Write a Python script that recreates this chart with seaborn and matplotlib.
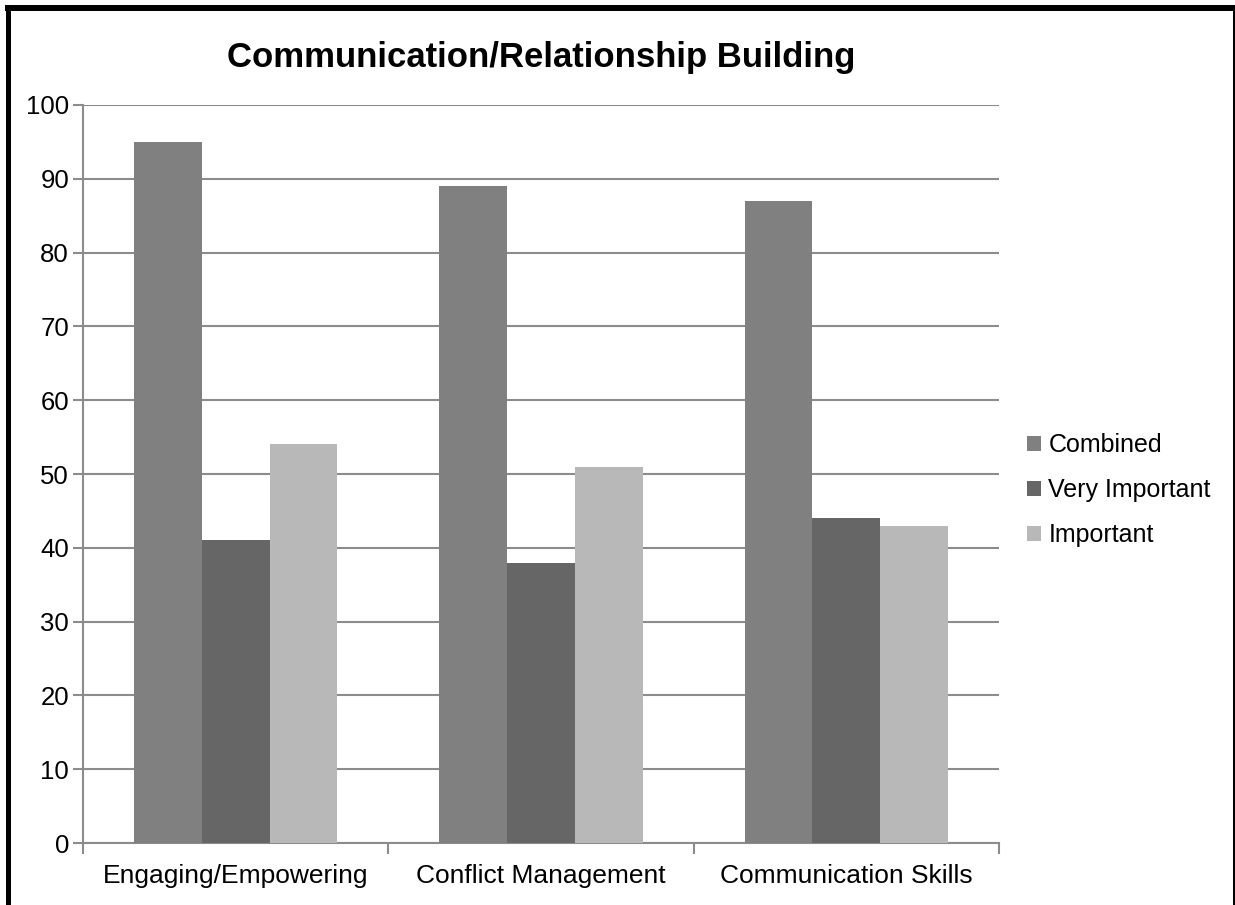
import matplotlib
matplotlib.use("Agg")
import matplotlib.pyplot as plt
from matplotlib.lines import Line2D
import seaborn as sns
import pandas as pd

categories = ["Engaging/Empowering", "Conflict Management", "Communication Skills"]
series = ["Combined", "Very Important", "Important"]
combined = [95, 89, 87]
very_important = [41, 38, 44]
important = [54, 51, 43]
yticks = [0, 10, 20, 30, 40, 50, 60, 70, 80, 90, 100]
title = "Communication/Relationship Building"

colors = ["#808080", "#666666", "#b8b8b8"]

rows = []
for s, vals in zip(series, [combined, very_important, important]):
    for c, v in zip(categories, vals):
        rows.append({"category": c, "series": s, "value": v})
df = pd.DataFrame(rows)

sns.set_theme(style="white")
plt.rcParams["font.family"] = ["Liberation Sans", "DejaVu Sans"]
plt.rcParams["text.color"] = "black"

fig = plt.figure(figsize=(12.35, 9.05), dpi=100)
ax = fig.add_axes([83/1235, 1-843/905, (999-83)/1235, (843-105)/905])

sns.barplot(data=df, x="category", y="value", hue="series", order=categories,
            hue_order=series, palette=colors, width=0.667, gap=0,
            linewidth=0, saturation=1, ax=ax, legend=True, zorder=3)

grid_c = "#8c8c8c"
ax.set_ylim(0, 100)
ax.set_xlim(-0.5, len(categories) - 0.5)
ax.set_yticks(yticks)
ax.set_yticklabels([str(t) for t in yticks], fontsize=18.5, color="black")
ax.yaxis.grid(True, color=grid_c, linewidth=1.5, zorder=0)
ax.set_axisbelow(True)
ax.set_xlabel("")
ax.set_ylabel("")
ax.tick_params(axis="y", direction="out", length=7, width=1.5, color=grid_c, pad=3, left=True)
ax.tick_params(axis="x", which="major", length=0, pad=15, labelsize=19, labelcolor="black")
ax.set_xticks([i + 0.5 for i in range(-1, len(categories))], minor=True)
ax.tick_params(axis="x", which="minor", direction="out", length=8, width=1.5, color=grid_c, bottom=True)
for side in ["top", "right"]:
    ax.spines[side].set_visible(False)
for side in ["left", "bottom"]:
    ax.spines[side].set_color(grid_c)
    ax.spines[side].set_linewidth(1.5)

ax.set_title(title, fontsize=25, fontweight="bold", pad=27, color="black")

leg = ax.legend(loc="center left", bbox_to_anchor=(1.02, 0.478), frameon=False,
                fontsize=18, handlelength=0.56, handleheight=0.56, handletextpad=0.28,
                labelspacing=0.85, borderaxespad=0)
for t in leg.get_texts():
    t.set_color("black")

# figure border (left, top, right)
fig.add_artist(Line2D([7.5/1235, 7.5/1235], [0, 1-8/905], color="black", linewidth=5*0.72,
                      transform=fig.transFigure, solid_capstyle="butt"))
fig.add_artist(Line2D([5/1235, 1235/1235], [1-8/905, 1-8/905], color="black", linewidth=6*0.72,
                      transform=fig.transFigure, solid_capstyle="butt"))
fig.add_artist(Line2D([1233.5/1235, 1233.5/1235], [0, 1-8/905], color="black", linewidth=3*0.72,
                      transform=fig.transFigure, solid_capstyle="butt"))

fig.savefig("out.png", dpi=100)
